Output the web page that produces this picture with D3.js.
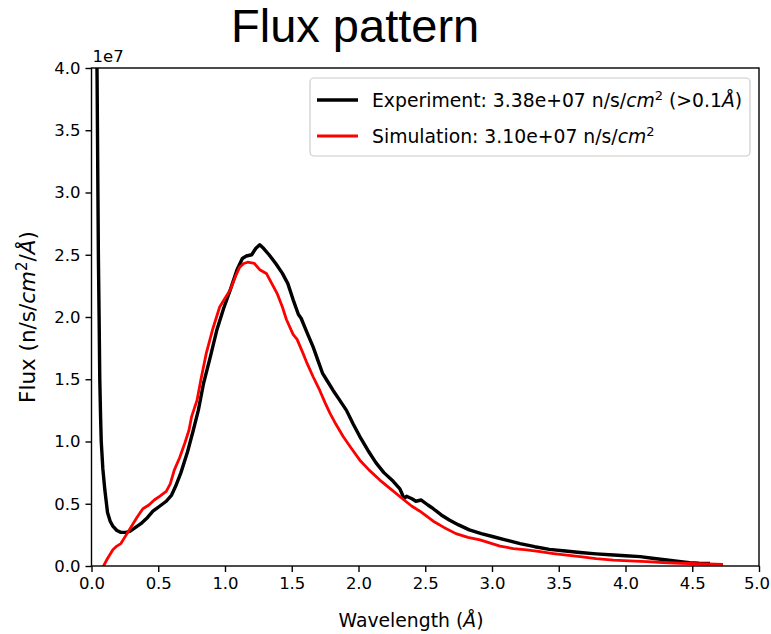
<!DOCTYPE html>
<html>
<head>
<meta charset="utf-8">
<script src="https://cdn.jsdelivr.net/npm/d3@7"></script>
<style>
  html, body { margin: 0; padding: 0; background: #fff; }
  svg { display: block; }
  text { font-family: "DejaVu Sans", sans-serif; fill: #000; }
</style>
</head>
<body>
<svg id="chart" width="771" height="634"></svg>
<script>
const titleText = "Flux pattern";
const xTicks = [0.0, 0.5, 1.0, 1.5, 2.0, 2.5, 3.0, 3.5, 4.0, 4.5, 5.0];
const yTicks = [0.0, 0.5, 1.0, 1.5, 2.0, 2.5, 3.0, 3.5, 4.0];

// Experiment (x1e7 n/s/cm^2/Å)
const expWavelength = [0.035,0.042,0.048,0.052,0.057,0.062,0.068,0.073,0.085,0.10,0.12,0.14,0.16,0.19,0.22,0.26,0.29,0.33,0.37,0.42,0.46,0.51,0.56,0.60,0.63,0.67,0.72,0.76,0.80,0.84,0.89,0.94,0.99,1.04,1.09,1.13,1.16,1.20,1.23,1.26,1.29,1.33,1.38,1.43,1.47,1.51,1.55,1.57,1.62,1.66,1.70,1.73,1.77,1.81,1.86,1.91,1.96,2.01,2.07,2.13,2.19,2.26,2.31,2.33,2.34,2.36,2.40,2.43,2.47,2.52,2.56,2.62,2.68,2.75,2.83,2.92,3.01,3.10,3.21,3.32,3.43,3.55,3.66,3.78,3.91,4.00,4.11,4.20,4.31,4.40,4.48,4.55,4.62];
const expFlux = [4.6,3.9,3.0,2.45,2.0,1.5,1.2,1.0,0.78,0.61,0.43,0.36,0.32,0.285,0.27,0.27,0.28,0.31,0.34,0.39,0.44,0.48,0.52,0.57,0.64,0.75,0.92,1.08,1.25,1.47,1.68,1.90,2.07,2.22,2.38,2.47,2.49,2.50,2.55,2.58,2.55,2.50,2.43,2.35,2.27,2.14,2.02,1.99,1.86,1.76,1.64,1.55,1.48,1.41,1.33,1.25,1.14,1.04,0.93,0.83,0.75,0.68,0.62,0.57,0.54,0.56,0.54,0.52,0.53,0.49,0.46,0.41,0.37,0.33,0.29,0.26,0.235,0.21,0.18,0.155,0.134,0.12,0.108,0.097,0.088,0.082,0.075,0.062,0.048,0.036,0.027,0.022,0.02];

// Simulation (x1e7 n/s/cm^2/Å)
const simWavelength = [0.09,0.12,0.16,0.19,0.22,0.26,0.30,0.34,0.385,0.43,0.47,0.51,0.56,0.59,0.62,0.66,0.70,0.73,0.75,0.79,0.82,0.86,0.91,0.96,1.00,1.04,1.08,1.11,1.14,1.17,1.22,1.26,1.31,1.35,1.39,1.43,1.46,1.51,1.54,1.58,1.61,1.66,1.71,1.75,1.785,1.83,1.885,1.95,2.01,2.08,2.16,2.24,2.33,2.40,2.46,2.56,2.64,2.73,2.82,2.91,3.06,3.16,3.26,3.36,3.46,3.56,3.66,3.78,3.91,4.03,4.16,4.28,4.41,4.55,4.72];
const simFlux = [0.0,0.06,0.13,0.16,0.18,0.25,0.32,0.39,0.46,0.49,0.53,0.56,0.60,0.66,0.77,0.87,0.99,1.09,1.20,1.33,1.50,1.71,1.91,2.08,2.15,2.22,2.33,2.40,2.43,2.44,2.43,2.38,2.35,2.27,2.19,2.08,1.98,1.86,1.82,1.72,1.64,1.52,1.41,1.31,1.23,1.14,1.04,0.94,0.85,0.77,0.69,0.62,0.54,0.48,0.44,0.36,0.31,0.26,0.23,0.21,0.16,0.14,0.13,0.115,0.10,0.087,0.075,0.06,0.048,0.041,0.035,0.028,0.022,0.018,0.014];

const seriesNames = ["Experiment", "Simulation"];
const seriesColors = ["#000000", "#ff0000"];

(function () {
const svg = d3.select("#chart");
const pLeft = 91.5, pRight = 759, pTop = 68, pBottom = 566;

const x = d3.scaleLinear().domain([0, 5]).range([pLeft, pRight]);
const y = d3.scaleLinear().domain([0, 4]).range([pBottom, pTop]);

svg.append("defs").append("clipPath").attr("id", "clip")
  .append("rect").attr("x", pLeft).attr("y", pTop).attr("width", pRight - pLeft).attr("height", pBottom - pTop);

const line = d3.line().x(d => x(d[0])).y(d => y(d[1]));
const expData = expWavelength.map((w, i) => [w, expFlux[i]]);
const simData = simWavelength.map((w, i) => [w, simFlux[i]]);

const plot = svg.append("g").attr("clip-path", "url(#clip)");
plot.append("path").datum(expData).attr("d", line)
  .attr("fill", "none").attr("stroke", seriesColors[0]).attr("stroke-width", 3.4)
  .attr("stroke-linejoin", "round").attr("stroke-linecap", "square");
plot.append("path").datum(simData).attr("d", line)
  .attr("fill", "none").attr("stroke", seriesColors[1]).attr("stroke-width", 2.8)
  .attr("stroke-linejoin", "round").attr("stroke-linecap", "square");

// Axes
const fmt = d3.format(".1f");
const xAxis = svg.append("g").attr("transform", `translate(0,${pBottom})`)
  .call(d3.axisBottom(x).tickValues(xTicks).tickFormat(fmt).tickSize(6).tickPadding(5));
const yAxis = svg.append("g").attr("transform", `translate(${pLeft},0)`)
  .call(d3.axisLeft(y).tickValues(yTicks).tickFormat(fmt).tickSize(6).tickPadding(5));
[xAxis, yAxis].forEach(a => {
  a.select(".domain").remove();
  a.selectAll(".tick line").attr("stroke", "#000").attr("stroke-width", 1.4);
  a.selectAll(".tick text").attr("font-family", "DejaVu Sans").attr("font-size", 16.5).attr("fill", "#222");
});
// keep the last x tick label inside the page
xAxis.selectAll(".tick text").filter(d => d === 5).attr("dx", -2.5);

// Spines
svg.append("rect").attr("x", pLeft).attr("y", pTop).attr("width", pRight - pLeft).attr("height", pBottom - pTop)
  .attr("fill", "none").attr("stroke", "#000").attr("stroke-width", 1.4);

// Offset text
svg.append("text").attr("x", pLeft + 1).attr("y", 62).attr("font-size", 16.5).attr("fill", "#222").text("1e7");

// Title
svg.append("text").attr("x", 231).attr("y", 42)
  .style("font-family", "'Liberation Sans', Arial, sans-serif").attr("font-size", 47).text(titleText);

// X label
const xl = svg.append("text").attr("x", 411).attr("y", 627).attr("text-anchor", "middle").attr("font-size", 18.8);
xl.append("tspan").text("Wavelength (");
xl.append("tspan").attr("font-style", "italic").text("Å");
xl.append("tspan").text(")");

// Y label
const yl = svg.append("text").attr("transform", "translate(35,317) rotate(-90)")
  .attr("text-anchor", "middle").attr("font-size", 21.5);
yl.append("tspan").text("Flux (n/s/");
yl.append("tspan").attr("font-style", "italic").text("cm");
yl.append("tspan").attr("font-size", 15).attr("dy", -8).text("2");
yl.append("tspan").attr("dy", 8).text("/");
yl.append("tspan").attr("font-style", "italic").text("Å");
yl.append("tspan").text(")");

// Legend
const lg = svg.append("g");
lg.append("rect").attr("x", 310).attr("y", 78).attr("width", 440).attr("height", 78)
  .attr("rx", 4).attr("fill", "#fff").attr("fill-opacity", 0.8).attr("stroke", "#cccccc").attr("stroke-width", 1.2);
const rows = [
  { name: seriesNames[0], val: "3.38e+07", extra: true },
  { name: seriesNames[1], val: "3.10e+07", extra: false }
];
rows.forEach((r, i) => {
  const cy = 100 + i * 36;
  lg.append("line").attr("x1", 317).attr("x2", 358).attr("y1", cy).attr("y2", cy)
    .attr("stroke", seriesColors[i]).attr("stroke-width", i === 0 ? 3.6 : 3);
  const t = lg.append("text").attr("x", 372).attr("y", cy + 6.5).attr("font-size", 18.8);
  t.append("tspan").text(`${r.name}: ${r.val} n/s/`);
  t.append("tspan").attr("font-style", "italic").text("cm");
  t.append("tspan").attr("font-size", 13).attr("dy", -7).text("2");
  if (r.extra) {
    t.append("tspan").attr("dy", 7).text(" (>0.1");
    t.append("tspan").attr("font-style", "italic").text("Å");
    t.append("tspan").text(")");
  }
});
})();
</script>
</body>
</html>
